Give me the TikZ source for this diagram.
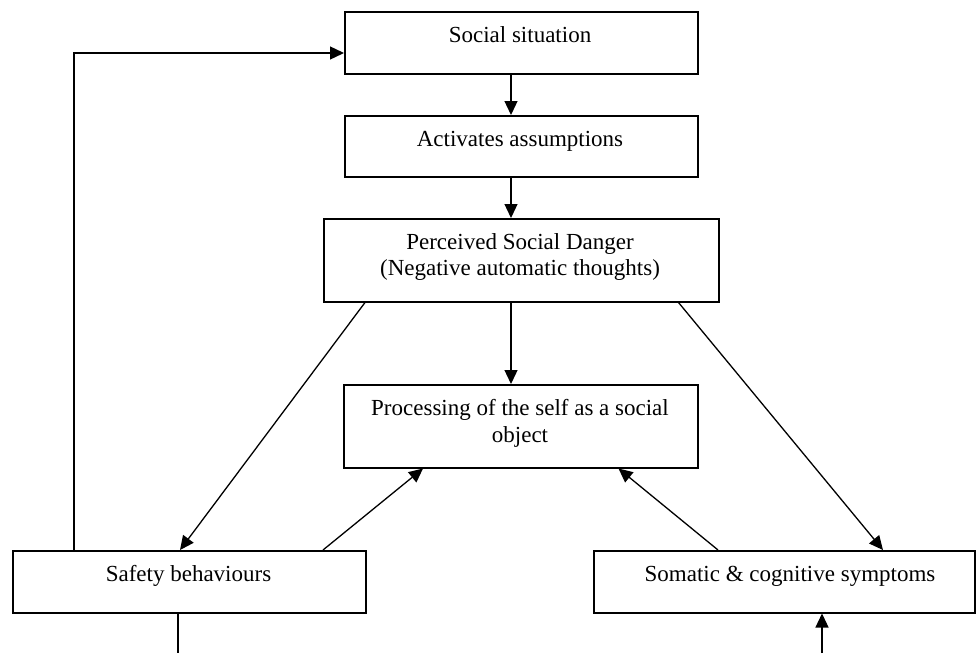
\documentclass[tikz,border=0pt]{standalone}
\usepackage{fontspec}
\setmainfont{Liberation Serif}
\usetikzlibrary{arrows.meta}
\tikzset{
  box/.style={draw, line width=1.5pt, inner sep=0pt, rectangle, anchor=north west},
  lbl/.style={anchor=base, inner sep=0pt, font=\fontsize{23}{26}\selectfont},
  arr/.style={line width=1.3pt, -{Triangle[length=14pt,width=13pt]}},
  ln/.style={line width=1.3pt}
}
\begin{document}
\begin{tikzpicture}[x=1pt,y=-1pt]
\useasboundingbox (0,0) rectangle (976,653);
% boxes
\node[box, minimum width=353pt, minimum height=62pt] (soc) at (344,11) {};
\node[box, minimum width=353pt, minimum height=61pt] (act) at (344,115) {};
\node[box, minimum width=395pt, minimum height=83pt] (per) at (323,218) {};
\node[box, minimum width=354pt, minimum height=83pt] (pro) at (343,384) {};
\node[box, minimum width=353pt, minimum height=62pt] (saf) at (12,550) {};
\node[box, minimum width=381pt, minimum height=62pt] (som) at (593,550) {};
% texts
\node[lbl] (socT) at (520,42) {Social situation};
\node[lbl] (actT) at (520,146) {Activates assumptions};
\node[lbl] (perT1) at (520,249) {Perceived Social Danger};
\node[lbl] (perT2) at (520,275) {(Negative automatic thoughts)};
\node[lbl] (proT1) at (520,415) {Processing of the self as a social};
\node[lbl] (proT2) at (520,442) {object};
\node[lbl] (safT) at (188.5,581) {Safety behaviours};
\node[lbl] (somT) at (790,581) {Somatic \& cognitive symptoms};
% helper coordinates
\coordinate (vx) at (511,0);
\coordinate (loopx) at (74,0);
\coordinate (loopy) at (0,53);
\coordinate (safEnd) at (178,653);
\coordinate (somStart) at (822,653);
% vertical chain
\draw[arr] (soc.south -| vx) -- (act.north -| vx);
\draw[arr] (act.south -| vx) -- (per.north -| vx);
\draw[arr] (per.south -| vx) -- (pro.north -| vx);
% diagonals
\draw[arr] ([xshift=42pt]per.south west) -- ([xshift=168pt]saf.north west);
\draw[arr] ([xshift=-41pt]per.south east) -- ([xshift=290pt]som.north west);
\draw[arr] ([xshift=311pt]saf.north west) -- ([xshift=80pt]pro.south west);
\draw[arr] ([xshift=125pt]som.north west) -- ([xshift=-80pt]pro.south east);
% loop back to social situation
\draw[arr] (saf.north -| loopx) -- (loopx |- loopy) -- (soc.west |- loopy);
% bottom lines
\draw[ln] (saf.south -| safEnd) -- (safEnd);
\draw[arr] (somStart) -- (som.south -| somStart);
\end{tikzpicture}
\end{document}
